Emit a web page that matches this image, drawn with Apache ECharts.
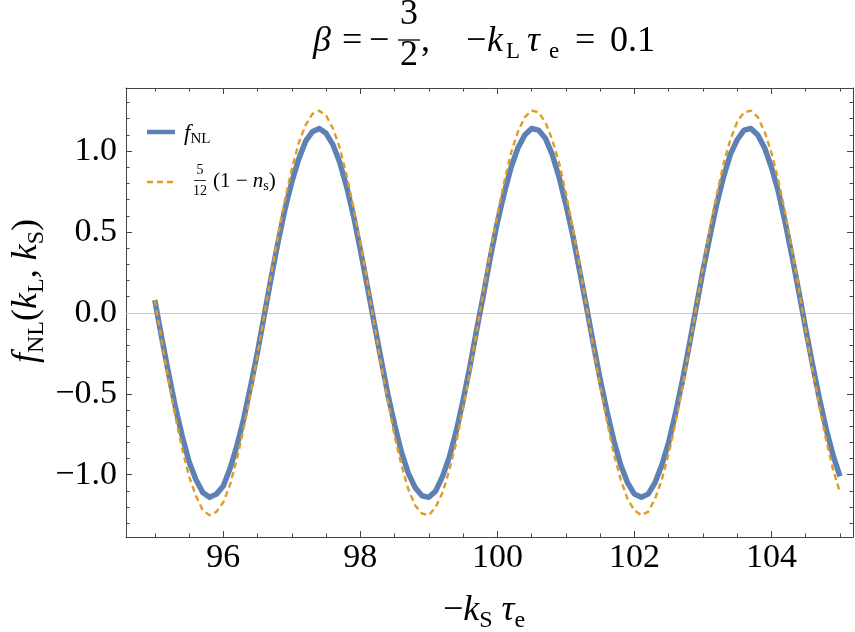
<!DOCTYPE html>
<html>
<head>
<meta charset="utf-8">
<script src="https://cdn.jsdelivr.net/npm/echarts@6/dist/echarts.min.js"></script>
<style>
  html, body { margin: 0; background: #fff; }
  #chart { width: 855px; height: 632px; }
</style>
</head>
<body>
<div id="chart"></div>
<script>
// -k_S tau_e samples
const kS = [
  95, 95.1, 95.2, 95.3, 95.4, 95.5, 95.6, 95.7, 95.8, 95.9,
  96, 96.1, 96.2, 96.3, 96.4, 96.5, 96.6, 96.7, 96.8, 96.9,
  97, 97.1, 97.2, 97.3, 97.4, 97.5, 97.6, 97.7, 97.8, 97.9,
  98, 98.1, 98.2, 98.3, 98.4, 98.5, 98.6, 98.7, 98.8, 98.9,
  99, 99.1, 99.2, 99.3, 99.4, 99.5, 99.6, 99.7, 99.8, 99.9,
  100, 100.1, 100.2, 100.3, 100.4, 100.5, 100.6, 100.7, 100.8, 100.9,
  101, 101.1, 101.2, 101.3, 101.4, 101.5, 101.6, 101.7, 101.8, 101.9,
  102, 102.1, 102.2, 102.3, 102.4, 102.5, 102.6, 102.7, 102.8, 102.9,
  103, 103.1, 103.2, 103.3, 103.4, 103.5, 103.6, 103.7, 103.8, 103.9,
  104, 104.1, 104.2, 104.3, 104.4, 104.5, 104.6, 104.7, 104.8, 104.9,
  105];
// f_NL (solid blue)
const fNL = [
  0.08, -0.15, -0.37, -0.58, -0.76, -0.92, -1.03, -1.11, -1.14, -1.12,
  -1.07, -0.96, -0.82, -0.65, -0.45, -0.24, -0.01, 0.22, 0.44, 0.64,
  0.81, 0.95, 1.06, 1.12, 1.14, 1.11, 1.04, 0.93, 0.78, 0.60,
  0.39, 0.17, -0.06, -0.28, -0.50, -0.69, -0.86, -0.99, -1.08, -1.13,
  -1.14, -1.10, -1.01, -0.89, -0.73, -0.54, -0.33, -0.10, 0.12, 0.35,
  0.56, 0.74, 0.90, 1.02, 1.10, 1.14, 1.13, 1.08, 0.98, 0.84,
  0.67, 0.48, 0.26, 0.04, -0.19, -0.41, -0.61, -0.79, -0.94, -1.05,
  -1.12, -1.14, -1.12, -1.05, -0.94, -0.80, -0.62, -0.42, -0.20, 0.03,
  0.26, 0.47, 0.67, 0.84, 0.98, 1.07, 1.13, 1.14, 1.10, 1.02,
  0.90, 0.75, 0.56, 0.35, 0.13, -0.10, -0.32, -0.53, -0.72, -0.88,
  -1.01];
// 5/12 (1 - n_s) (dashed orange)
const nsTerm = [
  0.08, -0.17, -0.41, -0.64, -0.84, -1.01, -1.13, -1.22, -1.25, -1.23,
  -1.17, -1.06, -0.90, -0.71, -0.50, -0.26, -0.01, 0.24, 0.48, 0.70,
  0.89, 1.05, 1.16, 1.23, 1.25, 1.22, 1.14, 1.02, 0.85, 0.65,
  0.43, 0.19, -0.06, -0.31, -0.54, -0.76, -0.94, -1.09, -1.19, -1.24,
  -1.25, -1.20, -1.11, -0.97, -0.80, -0.59, -0.36, -0.11, 0.14, 0.38,
  0.61, 0.81, 0.99, 1.12, 1.21, 1.25, 1.24, 1.18, 1.07, 0.93,
  0.74, 0.52, 0.29, 0.04, -0.21, -0.45, -0.67, -0.87, -1.03, -1.15,
  -1.22, -1.25, -1.23, -1.15, -1.03, -0.87, -0.68, -0.46, -0.22, 0.03,
  0.28, 0.52, 0.73, 0.92, 1.07, 1.18, 1.24, 1.25, 1.21, 1.12,
  0.99, 0.82, 0.62, 0.39, 0.15, -0.11, -0.35, -0.58, -0.79, -0.97,
  -1.11];

const xMajor = [96, 98, 100, 102, 104];
const xMinor = [95, 95.5, 96.5, 97, 97.5, 98.5, 99, 99.5, 100.5, 101, 101.5, 102.5, 103, 103.5, 104.5, 105];
const yMajor = [-1, -0.5, 0, 0.5, 1];
const yMinor = [-1.3, -1.2, -1.1, -0.9, -0.8, -0.7, -0.6, -0.4, -0.3, -0.2, -0.1,
  0.1, 0.2, 0.3, 0.4, 0.6, 0.7, 0.8, 0.9, 1.1, 1.2, 1.3];

const xMin = 94.58, xMax = 105.19;
const yMin = -1.385, yMax = 1.39;

const blue = '#5E81B5';
const orange = '#E19C24';
const frameColor = '#444';
const serif = '"Liberation Serif", "Times New Roman", serif';

const chart = echarts.init(document.getElementById('chart'), null, { renderer: 'canvas' });

function frameAxis(position, min, max, ticks, len, showLine, showLabel) {
  return {
    type: 'value',
    position: position,
    min: min,
    max: max,
    axisLine: { show: showLine, onZero: false, lineStyle: { color: frameColor, width: 1 } },
    axisTick: { show: true, inside: true, length: len, customValues: ticks,
      lineStyle: { color: frameColor, width: 1 } },
    axisLabel: { show: showLabel, customValues: ticks, margin: position === 'left' ? 9 : 4,
      color: '#000', fontFamily: serif, fontSize: 34,
      formatter: v => (v < 0 ? '\u2212' : '') + (position === 'left' ? Math.abs(v).toFixed(1) : String(v)) },
    splitLine: { show: false },
    minorTick: { show: false }
  };
}

// single text piece for the hand-set math labels
function txt(x, y, s, size, italic, align) {
  return { type: 'text', x: x, y: y, style: {
    text: s, fill: '#000', align: align || 'left', verticalAlign: 'middle',
    font: (italic ? 'italic ' : '') + size + 'px ' + serif } };
}

const tStyle = { fontFamily: serif, fontSize: 36, color: '#000', lineHeight: 44 };
const iStyle = Object.assign({}, tStyle, { fontStyle: 'italic' });
const sStyle = { fontFamily: serif, fontSize: 24, color: '#000', lineHeight: 24, verticalAlign: 'bottom' };
const axisRich = { t: tStyle, i: iStyle, s: sStyle };

const options = {
  animation: false,
  grid: { left: 126, right: 2, top: 88, bottom: 95, outerBoundsMode: 'none' },
  xAxis: [
    frameAxis('bottom', xMin, xMax, xMajor, 6, true, true),
    frameAxis('bottom', xMin, xMax, xMinor, 3.5, false, false),
    frameAxis('top', xMin, xMax, xMajor, 6, true, false),
    frameAxis('top', xMin, xMax, xMinor, 3.5, false, false)
  ],
  yAxis: [
    frameAxis('left', yMin, yMax, yMajor, 6, true, true),
    frameAxis('left', yMin, yMax, yMinor, 3.5, false, false),
    frameAxis('right', yMin, yMax, yMajor, 6, true, false),
    frameAxis('right', yMin, yMax, yMinor, 3.5, false, false)
  ],
  series: [
    {
      name: 'fNL',
      type: 'line',
      data: kS.map((x, i) => [x, fNL[i]]),
      showSymbol: false,
      lineStyle: { color: blue, width: 5.5, cap: 'butt', join: 'round' },
      markLine: {
        silent: true,
        symbol: ['none', 'none'],
        label: { show: false },
        lineStyle: { color: '#cccccc', width: 1, type: 'solid' },
        data: [{ yAxis: 0 }],
        z: 1
      },
      z: 2
    },
    {
      name: 'ns',
      type: 'line',
      data: kS.map((x, i) => [x, nsTerm[i]]),
      showSymbol: false,
      lineStyle: { color: orange, width: 2.4, type: [6, 4], join: 'round' },
      z: 3
    }
  ],
  graphic: [
    // title: beta = -3/2,  -k_L tau_e = 0.1
    txt(313, 42, 'β', 36, true),
    txt(342, 42, '=', 36),
    txt(369, 42, '−', 36),
    txt(409, 15, '3', 36, false, 'center'),
    { type: 'line', shape: { x1: 398, y1: 40, x2: 420, y2: 40 }, style: { stroke: '#000', lineWidth: 1.3 } },
    txt(409, 56, '2', 36, false, 'center'),
    txt(421, 42, ',', 36),
    txt(466, 42, '−', 36),
    txt(487, 42, 'k', 36, true),
    txt(506, 52, 'L', 23),
    txt(527, 42, 'τ', 36, true),
    txt(549, 52, 'e', 23),
    txt(575, 42, '=', 36),
    txt(610, 42, '0.1', 36),
    // x axis name
    { type: 'text', x: 484, y: 611, style: { text: '{t|−}{i|k}{s|S}{t| }{i|τ}{s|e}', rich: axisRich, align: 'center', verticalAlign: 'middle' } },
    // y axis name
    { type: 'text', x: 27, y: 291, rotation: Math.PI / 2,
      style: { text: '{i|f}{s|NL}{t|(}{i|k}{s|L}{t|, }{i|k}{s|S}{t|)}', rich: axisRich, align: 'center', verticalAlign: 'middle' } },
    // legend
    { type: 'line', shape: { x1: 147, y1: 132, x2: 175, y2: 132 }, style: { stroke: blue, lineWidth: 4.5 } },
    { type: 'text', x: 184, y: 134, style: { text: '{i|f}{s|NL}', align: 'left', verticalAlign: 'middle',
      rich: { i: { fontFamily: serif, fontSize: 23, fontStyle: 'italic', color: '#000', lineHeight: 26 },
              s: { fontFamily: serif, fontSize: 15, color: '#000', lineHeight: 15, verticalAlign: 'bottom' } } } },
    { type: 'line', shape: { x1: 147, y1: 182, x2: 175, y2: 182 }, style: { stroke: orange, lineWidth: 2.4, lineDash: [6, 4] } },
    txt(200, 170, '5', 14, false, 'center'),
    { type: 'line', shape: { x1: 194, y1: 180.5, x2: 206, y2: 180.5 }, style: { stroke: '#000', lineWidth: 0.8 } },
    txt(200, 191, '12', 14, false, 'center'),
    { type: 'text', x: 213, y: 181, style: { text: '{t|(1 − }{i|n}{s|s}{t|)}', align: 'left', verticalAlign: 'middle',
      rich: { t: { fontFamily: serif, fontSize: 21, color: '#000', lineHeight: 24 },
              i: { fontFamily: serif, fontSize: 21, fontStyle: 'italic', color: '#000', lineHeight: 24 },
              s: { fontFamily: serif, fontSize: 14, color: '#000', lineHeight: 14, verticalAlign: 'bottom' } } } }
  ]
};

chart.setOption(options);

window.addEventListener('resize', () => chart.resize());
</script>
</body>
</html>
